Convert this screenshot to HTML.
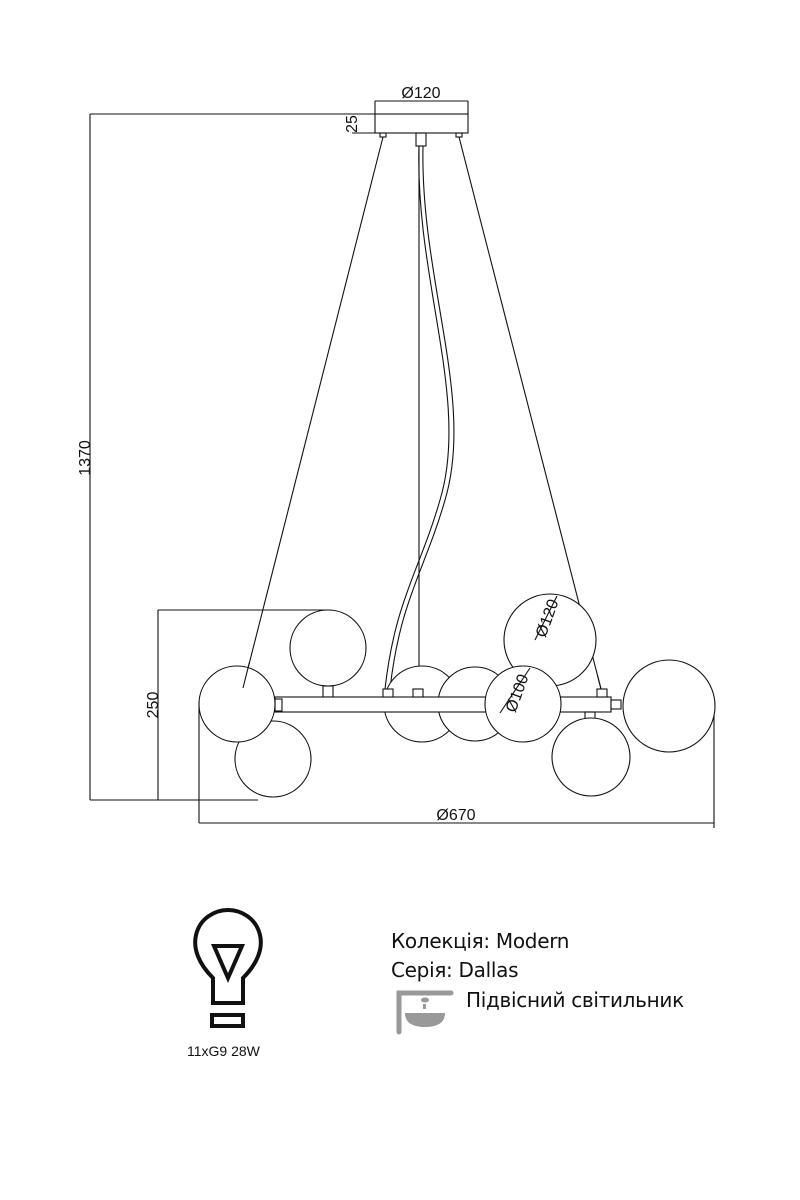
<!DOCTYPE html>
<html><head><meta charset="utf-8"><style>
body{margin:0;background:#fff;width:800px;height:1200px;overflow:hidden}
svg{position:absolute;left:0;top:0}
.t{position:absolute;font-family:"Liberation Sans","Noto Sans CJK SC",sans-serif;color:#111}
</style></head><body>
<svg width="800" height="1200" viewBox="0 0 800 1200" fill="none" stroke="#111" stroke-width="1.1">
<rect x="375" y="114" width="93" height="19" fill="#fff"/>
<line x1="375" y1="101" x2="468" y2="101"/>
<line x1="375" y1="101" x2="375" y2="114"/><line x1="468" y1="101" x2="468" y2="114"/>
<text x="421" y="98" font-family="Liberation Sans" font-size="16" text-anchor="middle" fill="#111" stroke="none">Ø120</text>
<line x1="90" y1="114" x2="375" y2="114"/>
<line x1="352" y1="133" x2="375" y2="133"/>
<text transform="translate(357,124) rotate(-90)" font-family="Liberation Sans" font-size="16" text-anchor="middle" fill="#111" stroke="none">25</text>
<rect x="416" y="133" width="10" height="13"/>
<rect x="380" y="133" width="6" height="4"/><rect x="456" y="133" width="6" height="4"/>
<line x1="383" y1="137" x2="243" y2="688"/>
<line x1="459" y1="137" x2="601" y2="689"/>
<line x1="419" y1="146" x2="419" y2="689"/>
<path d="M419 146 C 415 280, 470 400, 440 500 C 420 570, 395 600, 385 689"/>
<path d="M423 146 C 420 280, 475 400, 445 500 C 425 570, 400 600, 390 689"/>
<line x1="90" y1="114" x2="90" y2="800"/>
<line x1="90" y1="800" x2="258" y2="800"/>
<text transform="translate(90,458) rotate(-90)" font-family="Liberation Sans" font-size="16" text-anchor="middle" fill="#111" stroke="none">1370</text>
<line x1="158" y1="610" x2="158" y2="800"/>
<line x1="158" y1="610" x2="330" y2="610"/>
<text transform="translate(158,705) rotate(-90)" font-family="Liberation Sans" font-size="16" text-anchor="middle" fill="#111" stroke="none">250</text>
<line x1="199" y1="823" x2="714" y2="823"/>
<line x1="199" y1="704" x2="199" y2="823"/>
<line x1="714" y1="706" x2="714" y2="828"/>
<text x="456" y="820" font-family="Liberation Sans" font-size="16" text-anchor="middle" fill="#111" stroke="none">Ø670</text>
<circle cx="328" cy="648" r="38" fill="#fff"/>
<rect x="323" y="686" width="10" height="11"/>
<circle cx="550" cy="640" r="46" fill="#fff"/>
<circle cx="422" cy="704" r="38" fill="#fff"/>
<circle cx="475" cy="704" r="37" fill="#fff"/>
<circle cx="273" cy="759" r="38" fill="#fff"/>
<rect x="275" y="697" width="336" height="15" fill="#fff"/>
<rect x="611" y="700" width="10" height="9"/>
<rect x="275" y="699" width="7" height="12"/>
<rect x="585" y="712" width="10" height="7"/>
<circle cx="523" cy="704" r="38" fill="#fff"/>
<circle cx="237" cy="704" r="38" fill="#fff"/>
<circle cx="591" cy="757" r="39" fill="#fff"/>
<circle cx="669" cy="706" r="46" fill="#fff"/>
<line x1="249.5" y1="662" x2="243" y2="688"/>
<line x1="597.4" y1="675" x2="601" y2="689"/>
<rect x="383" y="689" width="10" height="8" fill="#fff"/>
<rect x="413" y="689" width="10" height="8" fill="#fff"/>
<rect x="597" y="689" width="10" height="8" fill="#fff"/>
<line x1="500" y1="713" x2="530" y2="668"/>
<text transform="translate(522,695) rotate(-70)" font-family="Liberation Sans" font-size="16" text-anchor="middle" fill="#111" stroke="none">Ø100</text>
<line x1="535" y1="640" x2="557" y2="596"/>
<text transform="translate(552,620) rotate(-70)" font-family="Liberation Sans" font-size="16" text-anchor="middle" fill="#111" stroke="none">Ø120</text>
<path d="M213 1003 L213 978 C198 963 193 948 196 935 C200 918 215 910 228 910 C241 910 256 918 260 935 C263 948 258 963 243 978 L243 1003 Z" stroke-width="4"/>
<path d="M214 946 L242 946 L228 978 Z" stroke-width="4"/>
<rect x="212" y="1015" width="31" height="11" stroke-width="4"/>
<path d="M399 1032 L399 993 L451 993" stroke="#999" stroke-width="5" stroke-linecap="round"/>
<ellipse cx="425" cy="1000" rx="4" ry="2.5" fill="#999" stroke="none"/>
<rect x="423" y="1004" width="3" height="5" fill="#999" stroke="none"/>
<path d="M405 1013 L445 1013 C445 1023 437 1027 425 1027 C413 1027 405 1023 405 1013 Z" fill="#999" stroke="none"/>
</svg>
<div class="t" style="left:391px;top:929px;font-size:20px;font-family:'DejaVu Sans',sans-serif;letter-spacing:-0.3px">Колекція: Modern</div>
<div class="t" style="left:391px;top:958px;font-size:20px;font-family:'DejaVu Sans',sans-serif;letter-spacing:-0.3px">Серія: Dallas</div>
<div class="t" style="left:466px;top:988px;font-size:20px;font-family:'DejaVu Sans',sans-serif;letter-spacing:-0.3px">Підвісний світильник</div>
<div class="t" style="left:187px;top:1043px;font-size:14px">11xG9 28W</div>
</body></html>
